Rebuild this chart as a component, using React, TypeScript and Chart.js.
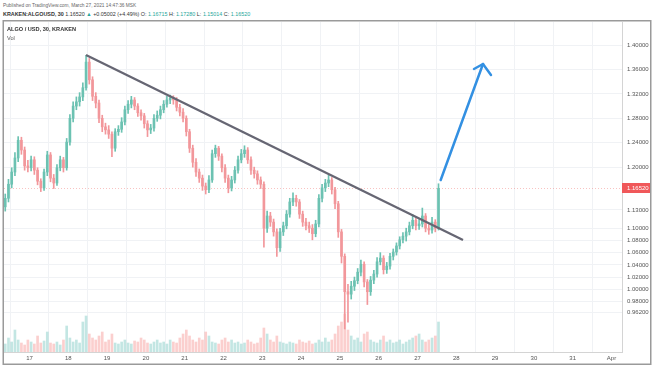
import React, { useEffect, useRef } from "react";
import { Chart, registerables } from "chart.js";
Chart.register(...registerables);

// ---- data (2-hour candles) ----
const START_DAY = 16.375; // Mar 16, 09:00
const STEP_DAYS = 1 / 12;
const FIRST_OPEN = 1.135;

const closes = [
  1.149, 1.172, 1.192, 1.215, 1.244, 1.228, 1.202, 1.199, 1.212, 1.195, 1.177, 1.166,
  1.192, 1.22, 1.182, 1.174, 1.199, 1.212, 1.199, 1.241, 1.28, 1.3, 1.307, 1.315,
  1.33, 1.372, 1.343, 1.316, 1.305, 1.28, 1.266, 1.261, 1.254, 1.231, 1.258, 1.262,
  1.274, 1.294, 1.303, 1.31, 1.3, 1.289, 1.284, 1.271, 1.261, 1.264, 1.28, 1.285,
  1.294, 1.303, 1.31, 1.313, 1.31, 1.298, 1.29, 1.28, 1.258, 1.231, 1.208, 1.192,
  1.182, 1.169, 1.163, 1.179, 1.222, 1.231, 1.218, 1.199, 1.182, 1.166, 1.179, 1.195,
  1.212, 1.222, 1.228, 1.212, 1.195, 1.189, 1.179, 1.172, 1.1, 1.12, 1.11, 1.094,
  1.068, 1.094, 1.104, 1.123, 1.143, 1.149, 1.143, 1.123, 1.11, 1.104, 1.1, 1.091,
  1.107, 1.149, 1.166, 1.174, 1.179, 1.163, 1.14, 1.094, 1.054, 0.996, 0.992, 1.005,
  1.014, 1.028, 1.041, 1.012, 0.996, 1.015, 1.025, 1.045, 1.051, 1.032, 1.038, 1.054,
  1.061, 1.071, 1.081, 1.087, 1.094, 1.104, 1.113, 1.104, 1.107, 1.12, 1.1, 1.097,
  1.11, 1.1, 1.1652,
];
const highs = [
  1.156, 1.18, 1.199, 1.224, 1.25, 1.249, 1.233, 1.211, 1.218, 1.217, 1.199, 1.181,
  1.197, 1.226, 1.224, 1.188, 1.204, 1.218, 1.216, 1.247, 1.286, 1.307, 1.315, 1.322,
  1.338, 1.383, 1.378, 1.348, 1.322, 1.31, 1.285, 1.272, 1.268, 1.258, 1.263, 1.268,
  1.281, 1.3, 1.309, 1.316, 1.314, 1.304, 1.294, 1.288, 1.276, 1.27, 1.286, 1.292,
  1.3, 1.309, 1.316, 1.318, 1.317, 1.314, 1.303, 1.296, 1.284, 1.262, 1.236, 1.214,
  1.197, 1.187, 1.174, 1.186, 1.228, 1.236, 1.234, 1.222, 1.204, 1.187, 1.185, 1.201,
  1.218, 1.229, 1.235, 1.232, 1.217, 1.2, 1.194, 1.184, 1.176, 1.128, 1.126, 1.115,
  1.099, 1.1, 1.11, 1.129, 1.149, 1.158, 1.154, 1.147, 1.128, 1.116, 1.11, 1.106,
  1.113, 1.155, 1.172, 1.18, 1.187, 1.183, 1.167, 1.144, 1.098, 1.058, 1.008, 1.013,
  1.02, 1.034, 1.048, 1.045, 1.016, 1.021, 1.031, 1.052, 1.06, 1.055, 1.044, 1.059,
  1.066, 1.076, 1.086, 1.093, 1.1, 1.11, 1.122, 1.117, 1.114, 1.133, 1.124, 1.106,
  1.118, 1.114, 1.1728,
];
const lows = [
  1.128, 1.143, 1.166, 1.186, 1.209, 1.221, 1.195, 1.192, 1.194, 1.188, 1.171, 1.16,
  1.162, 1.186, 1.176, 1.165, 1.17, 1.194, 1.192, 1.195, 1.236, 1.274, 1.294, 1.3,
  1.309, 1.326, 1.336, 1.309, 1.297, 1.273, 1.258, 1.254, 1.247, 1.217, 1.226, 1.252,
  1.257, 1.269, 1.288, 1.297, 1.294, 1.283, 1.277, 1.264, 1.25, 1.255, 1.259, 1.275,
  1.279, 1.289, 1.298, 1.304, 1.303, 1.292, 1.284, 1.274, 1.251, 1.224, 1.2, 1.185,
  1.175, 1.162, 1.156, 1.158, 1.175, 1.216, 1.211, 1.192, 1.175, 1.158, 1.161, 1.174,
  1.19, 1.207, 1.216, 1.206, 1.188, 1.182, 1.172, 1.165, 1.069, 1.093, 1.103, 1.087,
  1.054, 1.062, 1.088, 1.099, 1.118, 1.137, 1.136, 1.116, 1.103, 1.097, 1.093, 1.081,
  1.086, 1.102, 1.143, 1.16, 1.168, 1.156, 1.132, 1.085, 1.043, 0.935, 0.946, 0.984,
  0.998, 1.009, 1.022, 1.004, 0.975, 0.99, 1.009, 1.02, 1.04, 1.025, 1.026, 1.033,
  1.048, 1.056, 1.066, 1.076, 1.079, 1.089, 1.099, 1.097, 1.098, 1.102, 1.094, 1.09,
  1.092, 1.094, 1.097,
];
const volumes = [
  8, 14, 10, 22, 12, 9, 7, 12, 10, 8, 16, 9,
  11, 20, 9, 8, 10, 7, 12, 26, 14, 10, 12, 9,
  30, 36, 18, 14, 12, 16, 20, 10, 12, 18, 9, 8,
  10, 12, 9, 8, 11, 10, 14, 12, 9, 8, 10, 12,
  9, 10, 8, 12, 10, 9, 14, 18, 22, 16, 12, 10,
  14, 12, 20, 16, 10, 9, 8, 12, 14, 10, 12, 9,
  10, 8, 9, 12, 10, 8, 9, 14, 24, 18, 12, 10,
  16, 10, 9, 8, 10, 9, 8, 12, 10, 9, 11, 8,
  9, 12, 10, 14, 10, 12, 18, 26, 30, 38, 22, 16,
  12, 14, 10, 18, 20, 12, 10, 9, 12, 16, 10, 12,
  9, 10, 12, 8, 10, 12, 14, 16, 18, 12, 10, 12,
  14, 16, 30,
];

const dayTicks = [17, 18, 19, 20, 21, 22, 23, 24, 25, 26, 27, 28, 29, 30, 31, 32];
const dayLabels = ["17", "18", "19", "20", "21", "22", "23", "24", "25", "26", "27", "28", "29", "30", "31", "Apr"];
const priceTicks = [1.4, 1.36, 1.32, 1.28, 1.24, 1.2, 1.13, 1.1, 1.08, 1.06, 1.04, 1.02, 1.0, 0.98, 0.962];
const lastPrice = 1.1652;

// drawn annotations (day, price)
const trendLine = [
  { x: 18.456, y: 1.3836 },
  { x: 28.173, y: 1.0807 },
];
const arrowShaft = [
  { x: 27.598, y: 1.1789 },
  { x: 28.688, y: 1.3689 },
];
const arrowHead = [
  { x: 28.456, y: 1.3607 },
  { x: 28.688, y: 1.3689 },
  { x: 28.894, y: 1.3509 },
];

const X_MIN = 16.343;
const X_MAX = 32.271;
const Y_MIN = 0.89729;
const Y_MAX = 1.43767;

const UP = "#6cc2b2";
const DOWN = "#f2979b";
const FONT = 'Arial, "Liberation Sans", sans-serif';

const overlayPlugin = {
  id: "tvOverlay",
  beforeDatasetsDraw(chart: any) {
    const { ctx, chartArea, scales } = chart;
    const y = Math.round(scales.y.getPixelForValue(lastPrice)) + 0.5;
    ctx.save();
    ctx.strokeStyle = "rgba(239,83,80,0.35)";
    ctx.lineWidth = 1;
    ctx.setLineDash([1, 2]);
    ctx.beginPath();
    ctx.moveTo(chartArea.left, y);
    ctx.lineTo(chartArea.right, y);
    ctx.stroke();
    ctx.restore();
  },
  afterDraw(chart: any) {
    const { ctx, chartArea, scales } = chart;
    const y = scales.y.getPixelForValue(lastPrice);
    ctx.save();
    ctx.fillStyle = "#f0585a";
    ctx.fillRect(chartArea.right, Math.round(y) - 5, 29, 10);
    ctx.fillStyle = "#ffffff";
    ctx.font = `6px ${FONT}`;
    ctx.textBaseline = "middle";
    ctx.fillText(lastPrice.toFixed(5), chartArea.right + 5, Math.round(y) + 0.5);
    ctx.strokeStyle = "#9a9a9a";
    ctx.lineWidth = 1.5;
    ctx.strokeRect(3.25, 20.75, 647.5, 343.5);
    ctx.restore();
  },
};

export default function App() {
  const ref = useRef<HTMLCanvasElement | null>(null);

  useEffect(() => {
    if (!ref.current) return;
    const opens = closes.map((c, i) => (i === 0 ? FIRST_OPEN : closes[i - 1]));
    const times = closes.map((_, i) => START_DAY + i * STEP_DAYS);
    const isUp = closes.map((c, i) => c >= opens[i]);
    const candleColors = isUp.map((u) => (u ? UP : DOWN));
    const volColors = isUp.map((u) => (u ? "rgba(38,166,154,0.28)" : "rgba(239,83,80,0.28)"));

    const chart = new Chart(ref.current, {
      type: "bar",
      data: {
        datasets: [
          {
            type: "line",
            data: arrowShaft,
            borderColor: "#3390e2",
            borderWidth: 2.5,
            pointRadius: 0,
            borderCapStyle: "round",
            order: 0,
          } as any,
          {
            type: "line",
            data: arrowHead,
            borderColor: "#3390e2",
            borderWidth: 2.5,
            pointRadius: 0,
            borderCapStyle: "round",
            borderJoinStyle: "round",
            order: 0,
          } as any,
          {
            type: "line",
            data: trendLine,
            borderColor: "#666673",
            borderWidth: 2.3,
            pointRadius: 0,
            order: 0,
          } as any,
          {
            type: "bar",
            data: times.map((t, i) => ({ x: t, y: [Math.min(opens[i], closes[i]), Math.max(opens[i], closes[i])] })),
            backgroundColor: candleColors,
            barThickness: 2,
            minBarLength: 1,
            grouped: false,
            order: 1,
          } as any,
          {
            type: "bar",
            data: times.map((t, i) => ({ x: t, y: [lows[i], highs[i]] })),
            backgroundColor: candleColors,
            barThickness: 1,
            grouped: false,
            order: 2,
          } as any,
          {
            type: "bar",
            yAxisID: "yVol",
            data: times.map((t, i) => ({ x: t, y: volumes[i] })),
            backgroundColor: volColors,
            barThickness: 2,
            grouped: false,
            order: 3,
          } as any,
        ],
      },
      options: {
        responsive: false,
        animation: false,
        devicePixelRatio: 1,
        events: [],
        layout: { padding: { left: 4, top: 22, right: 3, bottom: 2 } },
        plugins: { legend: { display: false }, tooltip: { enabled: false } },
        scales: {
          x: {
            type: "linear",
            position: "bottom",
            min: X_MIN,
            max: X_MAX,
            offset: false,
            grid: { color: "#f0f2f5", drawTicks: false },
            border: { display: true, color: "#d4d4d4" },
            afterBuildTicks: (scale: any) => {
              scale.ticks = dayTicks.map((v) => ({ value: v }));
            },
            afterFit: (scale: any) => {
              scale.height = 12;
            },
            ticks: {
              autoSkip: false,
              maxRotation: 0,
              padding: 2.5,
              color: "#555",
              font: { family: FONT, size: 6 },
              callback: (v: any) => {
                const k = dayTicks.indexOf(Number(v));
                return k >= 0 ? dayLabels[k] : "";
              },
            },
          },
          y: {
            type: "linear",
            position: "right",
            min: Y_MIN,
            max: Y_MAX,
            grid: { color: "#f0f2f5", drawTicks: false },
            border: { display: true, color: "#d4d4d4" },
            afterBuildTicks: (scale: any) => {
              scale.ticks = priceTicks.map((v) => ({ value: v }));
            },
            afterFit: (scale: any) => {
              scale.width = 29;
            },
            ticks: {
              padding: 5,
              color: "#555",
              font: { family: FONT, size: 6 },
              callback: (v: any) => Number(v).toFixed(5),
            },
          },
          yVol: {
            type: "linear",
            display: false,
            min: 0,
            max: 330,
          },
        },
      } as any,
      plugins: [overlayPlugin],
    });
    return () => chart.destroy();
  }, []);

  const teal = { color: "#26a69a" };
  return (
    <div
      style={{
        position: "absolute",
        left: 0,
        top: 0,
        width: 654,
        height: 366,
        background: "#fff",
        fontFamily: FONT,
        overflow: "hidden",
      }}
    >
      <div style={{ position: "absolute", left: 3, top: 2, fontSize: 4.8, lineHeight: "7px", color: "#666", whiteSpace: "nowrap" }}>
        Published on TradingView.com, March 27, 2021 14:47:36 MSK
      </div>
      <div style={{ position: "absolute", left: 3, top: 11, fontSize: 5.4, lineHeight: "7px", color: "#333", whiteSpace: "nowrap" }}>
        <b>KRAKEN:ALGOUSD, 30</b> 1.16520 <span style={teal}>▲</span> +0.05002 (+4.49%) O: <span style={teal}>1.16715</span> H:{" "}
        <span style={teal}>1.17280</span> L: <span style={teal}>1.15014</span> C: <span style={teal}>1.16520</span>
      </div>
      <canvas ref={ref} width={654} height={366} style={{ position: "absolute", left: 0, top: 0, width: 654, height: 366 }} />
      <div style={{ position: "absolute", left: 7, top: 25, fontSize: 5.6, lineHeight: "8px", fontWeight: "bold", color: "#333", whiteSpace: "nowrap" }}>
        ALGO / USD, 30, KRAKEN
      </div>
      <div style={{ position: "absolute", left: 7, top: 34, fontSize: 5.6, lineHeight: "8px", color: "#555", whiteSpace: "nowrap" }}>
        Vol
      </div>
    </div>
  );
}
